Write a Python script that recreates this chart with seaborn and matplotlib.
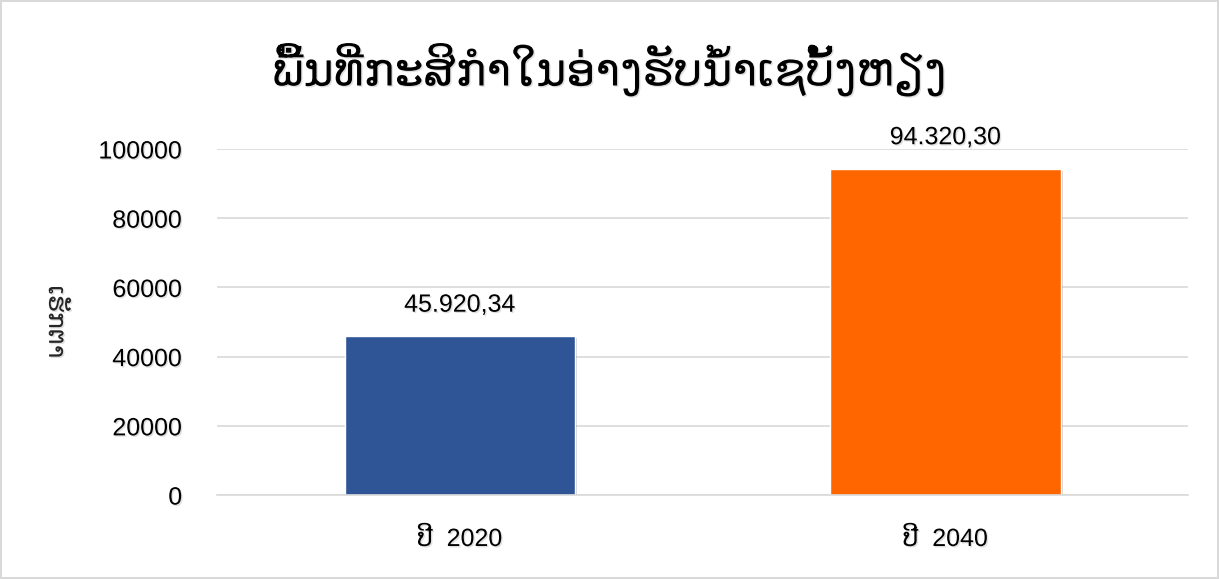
import matplotlib
matplotlib.use("Agg")
import matplotlib.pyplot as plt
import matplotlib.patheffects as pe
import seaborn as sns
import pandas as pd

# Agricultural area in the Xe Bang Hieng watershed (hectares)
categories = ["ປີ  2020", "ປີ  2040"]
values = [45920.34, 94320.30]
value_labels = ["45.920,34", "94.320,30"]
bar_colors = ["#2F5597", "#FF6600"]
y_ticks = [0, 20000, 40000, 60000, 80000, 100000]

title_text = "ພື້ນທີ່ກະສິກຳໃນອ່າງຮັບນ້ຳເຊບັ້ງຫຽງ"
y_label = "ເຮັກຕາ"

sns.set_theme(style="white")
plt.rcParams["font.family"] = ["Liberation Sans", "DejaVu Sans"]

df = pd.DataFrame({"year": categories, "area": values})

fig = plt.figure(figsize=(12.19, 5.79), dpi=100, linewidth=1.5, edgecolor="#d9d9d9")
ax = fig.add_axes([0.178, 0.145, 0.7968, 0.5977])

sns.barplot(data=df, x="year", y="area", hue="year", palette=bar_colors,
            width=0.474, legend=False, ax=ax, saturation=1)

# soft drop shadow on bars and text
bar_shadow = [pe.SimplePatchShadow(offset=(1.5, -1.5), shadow_rgbFace="#000000", alpha=0.18),
              pe.Normal()]
text_shadow = [pe.SimplePatchShadow(offset=(1, -1), shadow_rgbFace="#000000", alpha=0.12),
               pe.Normal()]
for patch in ax.patches:
    patch.set_path_effects(bar_shadow)

ax.set_xlim(-0.5, 1.5)
ax.set_ylim(0, 100000)
ax.set_yticks(y_ticks)
ax.set_yticklabels([str(t) for t in y_ticks])
ax.yaxis.grid(True, color="#d9d9d9", linewidth=1.2)
ax.set_axisbelow(True)
for side in ["top", "right", "left"]:
    ax.spines[side].set_visible(False)
ax.spines["bottom"].set_color("#d9d9d9")
ax.spines["bottom"].set_linewidth(1.2)
ax.tick_params(axis="both", length=0, labelsize=18, colors="black")
ax.tick_params(axis="y", pad=25)
ax.tick_params(axis="x", pad=23)
for lab in ax.get_xticklabels() + ax.get_yticklabels():
    lab.set_path_effects(text_shadow)

ax.set_xlabel("")
ax.set_ylabel(y_label, fontsize=18, rotation=-90, family=["DejaVu Sans"],
              path_effects=text_shadow)
ax.yaxis.set_label_coords(-0.178, 0.5)

for i, (v, lab) in enumerate(zip(values, value_labels)):
    ax.annotate(lab, (i, v), xytext=(0, 14), textcoords="offset points",
                ha="center", va="bottom", fontsize=18, color="black",
                annotation_clip=False, path_effects=text_shadow)

fig.text(0.5, 0.88, title_text, ha="center", va="center", fontsize=33,
         family=["DejaVu Sans"], color="black", path_effects=text_shadow)

fig.savefig("out.png", dpi=100)
